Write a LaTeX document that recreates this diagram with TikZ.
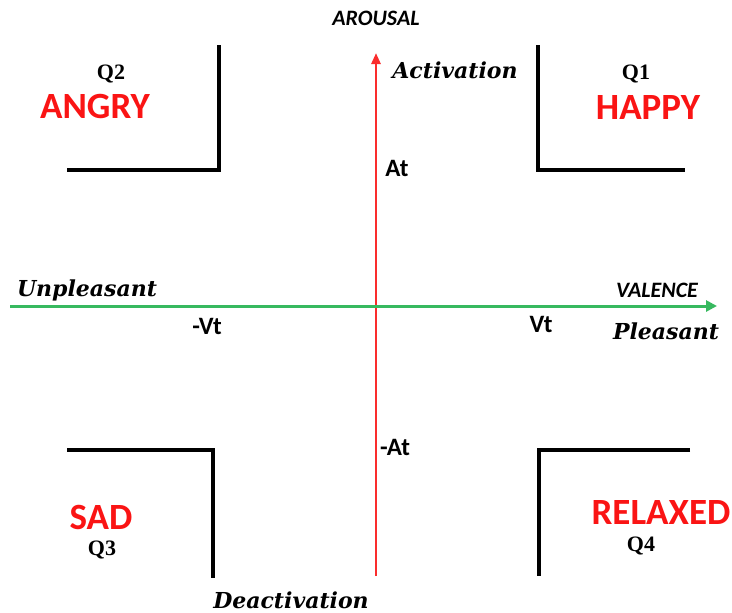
\documentclass[tikz,border=0pt]{standalone}
\usepackage{fontspec}
\setmainfont{Carlito}
\newfontfamily\qfont{Liberation Serif}
\newfontfamily\slab{DejaVu Serif}
\usetikzlibrary{arrows.meta}
\definecolor{axred}{RGB}{250,45,45}
\definecolor{axgreen}{RGB}{55,185,95}
\definecolor{emored}{RGB}{250,20,20}
\tikzset{
  emo/.style={text=emored,font=\fontsize{37}{37}\selectfont\bfseries,inner sep=0pt,text depth=0pt},
  qlab/.style={font=\qfont\fontsize{22}{22}\selectfont\bfseries,inner sep=0pt,text depth=0pt},
  pole/.style={font=\slab\fontsize{22}{22}\selectfont\bfseries\itshape,inner sep=0pt},
  axname/.style={font=\fontsize{22}{22}\selectfont\bfseries\itshape,inner sep=0pt},
  thr/.style={font=\fontsize{25}{25}\selectfont\bfseries,inner sep=0pt},
  corner/.style={line width=3.2pt,black},
}
\begin{document}
\begin{tikzpicture}[x=1pt,y=-1pt]
\useasboundingbox (0,0) rectangle (732,613);
% axes
\coordinate (vbot) at (376,576);
\coordinate (vtop) at (376,53);
\coordinate (hleft) at (10,306);
\coordinate (hright) at (717,306);
\draw[axred,line width=2.6pt,-{Triangle[length=11pt,width=9pt]}] (vbot) -- (vtop);
\draw[axgreen,line width=3pt,-{Triangle[length=11pt,width=11pt]}] (hleft) -- (hright);
% corners
\coordinate (c2a) at (219,45); \coordinate (c2b) at (219,170); \coordinate (c2c) at (67,170);
\draw[corner] (c2a) -- (c2b) -- (c2c);
\coordinate (c1a) at (538,45); \coordinate (c1b) at (538,170); \coordinate (c1c) at (685,170);
\draw[corner] (c1a) -- (c1b) -- (c1c);
\coordinate (c3a) at (67,450); \coordinate (c3b) at (213,450); \coordinate (c3c) at (213,578);
\draw[corner] (c3a) -- (c3b) -- (c3c);
\coordinate (c4a) at (690,450); \coordinate (c4b) at (539,450); \coordinate (c4c) at (539,576);
\draw[corner] (c4a) -- (c4b) -- (c4c);
% labels
\node[axname] (arousal) at (376,18) {AROUSAL};
\node[pole] (act) at (455,70) {Activation};
\node[pole] (deact) at (291,600) {Deactivation};
\node[pole] (unpl) at (87,290) {Unpleasant};
\node[pole] (pleas) at (666,331) {Pleasant};
\node[axname] (valence) at (657,290) {VALENCE};
\node[thr] (at) at (397,168) {At};
\node[thr] (mat) at (395,447) {-At};
\node[thr] (mvt) at (207,326) {-Vt};
\node[thr] (vt) at (541,324) {Vt};
\node[qlab] (q2) at (111,72) {Q2};
\node[emo] (angry) at (95,106) {ANGRY};
\node[qlab] (q1) at (636,72) {Q1};
\node[emo] (happy) at (648,108) {HAPPY};
\node[emo] (sad) at (101,517) {SAD};
\node[qlab] (q3) at (102,548) {Q3};
\node[emo] (relaxed) at (661,513) {RELAXED};
\node[qlab] (q4) at (641,544) {Q4};
\end{tikzpicture}
\end{document}
